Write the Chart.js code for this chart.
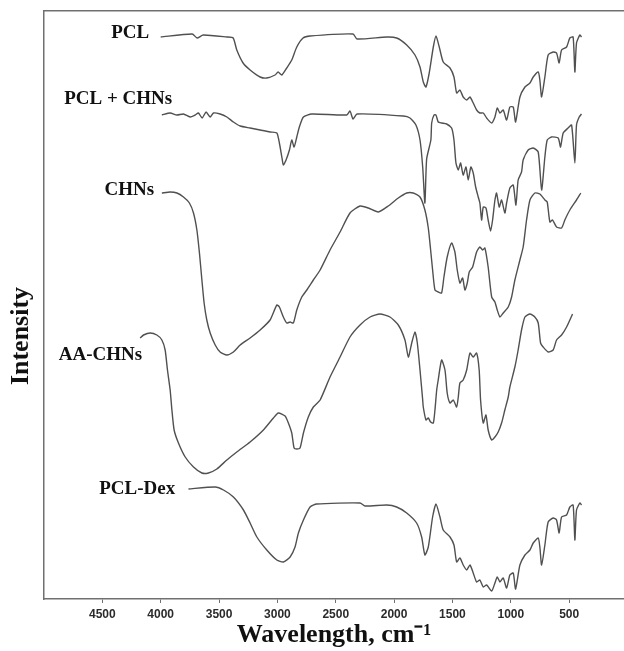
<!DOCTYPE html>
<html>
<head>
<meta charset="utf-8">
<script src="https://cdn.jsdelivr.net/npm/chart.js@4.4.1/dist/chart.umd.min.js"></script>
<style>
  html, body { margin: 0; padding: 0; background: #fff; }
  canvas { display: block; }
</style>
</head>
<body>
<canvas id="ftirChart" width="624" height="651"></canvas>
<script>
// wavenumber (cm-1) and stacked intensity (arbitrary units)
const pclWave = [4000, 3730, 3688, 3636, 3433, 3379, 3348, 3294, 3234, 3148, 3091, 3020, 2994, 2962, 2920, 2877, 2834, 2780, 2720, 2352, 2318, 2063, 1978, 1892, 1821, 1778, 1750, 1727, 1699, 1664, 1641, 1613, 1579, 1521, 1487, 1464, 1436, 1408, 1378, 1350, 1322, 1293, 1265, 1236, 1207, 1164, 1136, 1116, 1093, 1065, 1036, 1008, 979, 959, 922, 879, 836, 808, 765, 751, 736, 708, 680, 637, 608, 586, 565, 522, 494, 466, 451, 437, 408, 394];
const pclInt = [562, 565, 561, 564, 562, 561, 549, 536, 529, 522, 521, 524, 527, 524, 531, 539, 552, 561, 563, 565, 560, 562, 561, 554, 544, 532, 517, 512, 526, 552, 563, 552, 537, 531, 522, 506, 509, 502, 499, 502, 496, 489, 486, 486, 481, 476, 482, 491, 486, 489, 479, 492, 492, 477, 502, 512, 516, 522, 527, 519, 502, 522, 544, 547, 546, 536, 549, 552, 561, 562, 527, 556, 564, 562];

const pclChnsWave = [3990, 3919, 3861, 3805, 3748, 3705, 3677, 3645, 3611, 3576, 3548, 3491, 3433, 3377, 3319, 3234, 3148, 3063, 3005, 2983, 2962, 2949, 2926, 2897, 2877, 2857, 2834, 2812, 2777, 2706, 2406, 2378, 2352, 2318, 1921, 1864, 1813, 1778, 1755, 1736, 1721, 1685, 1678, 1658, 1641, 1622, 1593, 1550, 1507, 1487, 1470, 1450, 1430, 1408, 1384, 1365, 1342, 1322, 1301, 1279, 1265, 1250, 1236, 1213, 1194, 1173, 1156, 1136, 1122, 1099, 1079, 1051, 1036, 1008, 979, 956, 937, 908, 894, 851, 808, 765, 736, 708, 688, 651, 594, 574, 551, 509, 479, 451, 437, 414, 394];
const pclChnsInt = [484, 486, 484, 485, 482, 484, 486, 481, 487, 482, 486, 485, 482, 477, 473, 471, 469, 467, 466, 456, 442, 434, 439, 449, 459, 452, 462, 472, 482, 485, 484, 488, 480, 485, 483, 481, 474, 459, 432, 396, 440, 459, 476, 484, 484, 477, 476, 475, 471, 459, 436, 429, 436, 424, 432, 419, 432, 426, 412, 402, 396, 379, 392, 391, 379, 368, 379, 399, 406, 392, 399, 386, 396, 411, 414, 394, 419, 427, 439, 449, 451, 447, 409, 442, 459, 462, 461, 452, 466, 471, 474, 436, 474, 482, 485];

const chnsWave = [3990, 3919, 3861, 3805, 3754, 3719, 3690, 3668, 3647, 3628, 3605, 3576, 3533, 3491, 3433, 3377, 3319, 3234, 3148, 3063, 3005, 2983, 2949, 2920, 2891, 2863, 2834, 2791, 2748, 2692, 2634, 2549, 2463, 2378, 2292, 2221, 2135, 2050, 1964, 1892, 1836, 1778, 1736, 1707, 1687, 1670, 1650, 1622, 1593, 1573, 1545, 1507, 1479, 1459, 1436, 1413, 1393, 1373, 1356, 1327, 1293, 1265, 1241, 1222, 1194, 1164, 1136, 1116, 1093, 1065, 1022, 993, 965, 922, 894, 865, 836, 794, 751, 708, 688, 665, 642, 608, 565, 537, 494, 437, 400];
const chnsInt = [406, 407, 406, 402, 396, 386, 369, 346, 319, 296, 279, 266, 254, 247, 244, 247, 254, 261, 269, 279, 294, 292, 282, 276, 277, 276, 289, 302, 309, 319, 329, 349, 367, 386, 393, 391, 387, 393, 401, 406, 406, 402, 389, 371, 349, 329, 309, 307, 306, 322, 342, 356, 347, 329, 316, 321, 309, 316, 327, 332, 347, 352, 349, 351, 332, 302, 297, 289, 282, 286, 292, 302, 319, 339, 352, 379, 399, 406, 405, 399, 397, 377, 379, 372, 371, 379, 389, 399, 406];

const aaChnsWave = [4176, 4147, 4090, 4033, 3990, 3962, 3942, 3919, 3904, 3885, 3848, 3790, 3719, 3647, 3591, 3519, 3433, 3348, 3234, 3120, 3034, 2992, 2934, 2906, 2877, 2857, 2834, 2806, 2777, 2735, 2692, 2634, 2549, 2463, 2378, 2292, 2206, 2121, 2035, 1964, 1907, 1878, 1849, 1821, 1801, 1778, 1755, 1750, 1727, 1707, 1687, 1664, 1650, 1635, 1622, 1593, 1564, 1545, 1521, 1493, 1464, 1450, 1436, 1408, 1378, 1350, 1322, 1293, 1271, 1259, 1236, 1213, 1194, 1164, 1136, 1108, 1079, 1051, 1022, 1008, 965, 937, 908, 879, 836, 794, 765, 745, 723, 680, 637, 608, 565, 522, 471];
const aaChnsInt = [261, 264, 266, 264, 259, 249, 229, 209, 189, 169, 156, 142, 132, 126, 126, 130, 139, 147, 157, 169, 181, 186, 183, 176, 166, 151, 150, 151, 166, 182, 192, 199, 222, 242, 262, 274, 282, 285, 282, 274, 259, 242, 256, 267, 256, 229, 199, 192, 179, 181, 177, 176, 189, 209, 219, 239, 229, 206, 196, 199, 192, 202, 216, 219, 229, 246, 242, 246, 229, 199, 176, 184, 169, 159, 162, 167, 176, 189, 202, 212, 232, 249, 269, 282, 285, 282, 276, 256, 252, 247, 249, 259, 264, 272, 285];

const pclDexWave = [3762, 3533, 3462, 3377, 3291, 3234, 3176, 3091, 3005, 2949, 2891, 2849, 2820, 2777, 2720, 2663, 2292, 2249, 2063, 1978, 1892, 1807, 1764, 1736, 1707, 1670, 1641, 1607, 1579, 1521, 1487, 1464, 1436, 1408, 1378, 1350, 1322, 1293, 1265, 1236, 1207, 1164, 1136, 1116, 1093, 1065, 1036, 1008, 979, 959, 922, 879, 836, 808, 765, 751, 736, 708, 680, 637, 608, 586, 565, 522, 494, 466, 451, 437, 408, 394];
const pclDexInt = [110, 112, 109, 102, 89, 76, 62, 49, 39, 37, 42, 52, 66, 79, 92, 95, 96, 93, 94, 92, 86, 76, 62, 44, 52, 82, 95, 82, 69, 62, 54, 37, 41, 34, 29, 34, 26, 17, 19, 12, 14, 8, 16, 22, 17, 21, 11, 24, 26, 10, 34, 44, 49, 56, 61, 52, 34, 54, 77, 81, 79, 66, 82, 84, 92, 94, 59, 89, 96, 94];

const xTicks = [4500, 4000, 3500, 3000, 2500, 2000, 1500, 1000, 500];

const seriesLabels = [
  { text: "PCL", x: 4099, y: 566 },
  { text: "PCL + CHNs", x: 3902, y: 500 },
  { text: "CHNs", x: 4056, y: 409 },
  { text: "AA-CHNs", x: 4159, y: 244 },
  { text: "PCL-Dex", x: 3876, y: 110 },
];

const lineColor = "#505050";
const axisColor = "#707070";

function toPoints(wave, intensity) {
  return wave.map((w, i) => ({ x: w, y: intensity[i] }));
}

function spectrum(label, wave, intensity) {
  return {
    label,
    data: toPoints(wave, intensity),
    borderColor: lineColor,
    borderWidth: 1.4,
    pointRadius: 0,
    tension: 0.2,
    fill: false,
  };
}

const labelPlugin = {
  id: "spectrumLabels",
  afterDraw(chart) {
    const { ctx, scales } = chart;
    ctx.save();
    ctx.fillStyle = "#111";
    ctx.font = "bold 19px 'Liberation Serif', 'Times New Roman', serif";
    ctx.textAlign = "right";
    ctx.textBaseline = "middle";
    seriesLabels.forEach((l) => {
      ctx.fillText(l.text, scales.x.getPixelForValue(l.x), scales.y.getPixelForValue(l.y));
    });
    // y axis title, sitting a bit below the middle as in the figure
    ctx.translate(21, 336);
    ctx.rotate(-Math.PI / 2);
    ctx.textAlign = "center";
    ctx.font = "bold 26px 'Liberation Serif', 'Times New Roman', serif";
    ctx.fillText("Intensity", 0, 0);
    ctx.restore();
  },
};

new Chart(document.getElementById("ftirChart"), {
  type: "line",
  data: {
    datasets: [
      spectrum("PCL", pclWave, pclInt),
      spectrum("PCL + CHNs", pclChnsWave, pclChnsInt),
      spectrum("CHNs", chnsWave, chnsInt),
      spectrum("AA-CHNs", aaChnsWave, aaChnsInt),
      spectrum("PCL-Dex", pclDexWave, pclDexInt),
    ],
  },
  options: {
    responsive: false,
    animation: false,
    layout: { padding: { top: 11, right: 0, bottom: 0, left: 0 } },
    plugins: { legend: { display: false }, tooltip: { enabled: false } },
    scales: {
      x: {
        type: "linear",
        reverse: true,
        min: 30,
        max: 5000,
        afterBuildTicks: (scale) => {
          scale.ticks = xTicks.map((v) => ({ value: v }));
        },
        afterFit: (scale) => {
          scale.height = 52;
        },
        ticks: {
          color: "#2b2b2b",
          padding: 4,
          maxRotation: 0,
          callback: (value) => String(value),
          font: { family: "'Liberation Sans', Arial, sans-serif", size: 12, weight: "bold" },
        },
        grid: { display: true, drawOnChartArea: false, drawTicks: true, tickLength: 4, color: axisColor },
        border: { display: true, color: axisColor, width: 1.5 },
        title: {
          display: true,
          text: "Wavelength, cm\u207B\u00B9",
          color: "#111",
          padding: 0,
          font: { family: "'Liberation Serif', 'Times New Roman', serif", size: 26, weight: "bold" },
        },
      },
      x2: {
        type: "linear",
        position: "top",
        reverse: true,
        min: 30,
        max: 5000,
        afterFit: (scale) => {
          scale.height = 0;
        },
        ticks: { display: false },
        grid: { display: false },
        border: { display: true, color: axisColor, width: 1.5 },
      },
      y: {
        min: 0,
        max: 588,
        afterFit: (scale) => {
          scale.width = 44;
        },
        ticks: { display: false },
        grid: { display: false },
        border: { display: true, color: axisColor, width: 1.5 },
      },
    },
  },
  plugins: [labelPlugin],
});
</script>
</body>
</html>
